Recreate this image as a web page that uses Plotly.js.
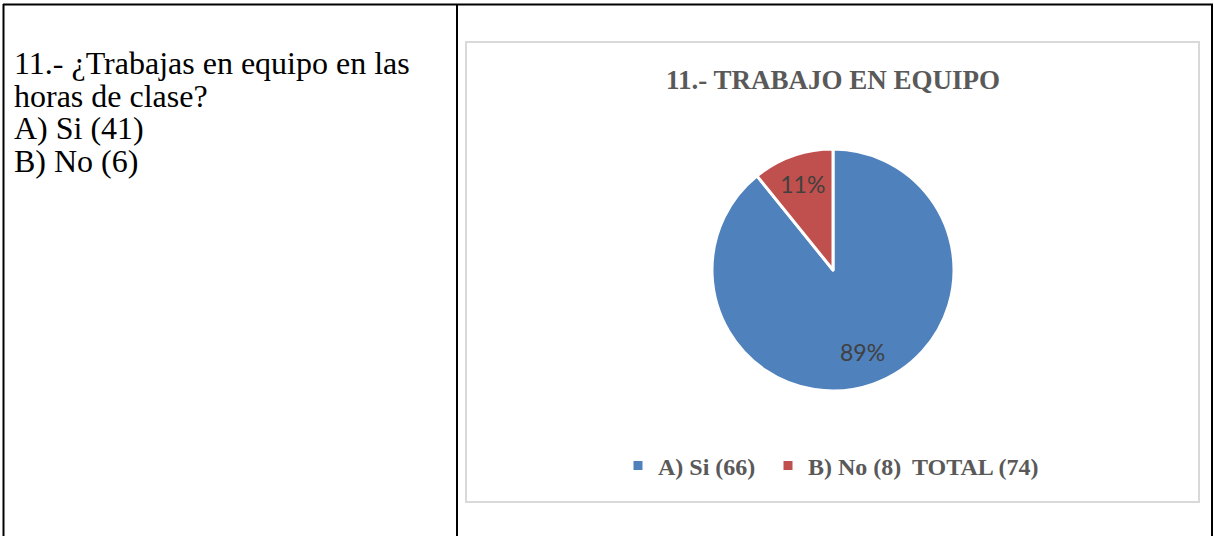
<!DOCTYPE html>
<html>
<head>
<meta charset="utf-8">
<script src="https://cdn.plot.ly/plotly-3.0.1.min.js"></script>
<style>
  html, body { margin: 0; padding: 0; background: #fff; }
  #wrap { position: relative; width: 1214px; height: 536px; }
  #chart { position: absolute; left: 0; top: 0; width: 1214px; height: 536px; }
  #question { position: absolute; left: 14px; top: 47px; width: 438px;
              font-family: "Liberation Serif", "Times New Roman", serif; font-size: 32px;
              line-height: 32.5px; color: #000; white-space: nowrap; }
</style>
</head>
<body>
<div id="wrap">
  <div id="chart"></div>
  <div id="question"></div>
</div>
<script>
// ---- data ----
const questionLines = ["11.- ¿Trabajas en equipo en las", "horas de clase?", "A) Si (41)", "B) No (6)"];
const chartTitle = "11.- TRABAJO EN EQUIPO";
const sliceLabels = ["A) Si (66)", "B) No (8)"];
const sliceValues = [66, 8];
const sliceColors = ["#4f81bd", "#c0504d"];
const totalLabel = "TOTAL (74)";

// left table cell text
const q = document.getElementById("question");
questionLines.forEach(t => { const d = document.createElement("div"); d.textContent = t; q.appendChild(d); });

// ---- layout helpers ----
const W = 1214, H = 536;
const px = x => x / W;
const py = y => 1 - y / H;
const SERIF = "Liberation Serif";

const shapes = [
  {type: "rect", xref: "paper", yref: "paper", x0: px(466), x1: px(1199), y0: py(42), y1: py(502),
   line: {color: "#d9d9d9", width: 2}, fillcolor: "rgba(0,0,0,0)", layer: "below"},
  {type: "line", xref: "paper", yref: "paper", x0: px(3), x1: px(1213), y0: py(4.5), y1: py(4.5), line: {color: "#000", width: 2}},
  {type: "line", xref: "paper", yref: "paper", x0: px(3.5), x1: px(3.5), y0: py(4), y1: py(536), line: {color: "#000", width: 2}},
  {type: "line", xref: "paper", yref: "paper", x0: px(457), x1: px(457), y0: py(4), y1: py(536), line: {color: "#000", width: 2}},
  {type: "line", xref: "paper", yref: "paper", x0: px(1212), x1: px(1212), y0: py(4), y1: py(536), line: {color: "#000", width: 2}}
];

const cx = 833, cy = 270, r = 121;

// label for the large slice, placed at its mid angle (derived from the values)
const total = sliceValues.reduce((a, b) => a + b, 0);
const midA = (sliceValues[0] / 2) / total * 2 * Math.PI;   // clockwise from 12 o'clock
const lr = 0.72 * r;
const annotations = [{
  text: Math.round(sliceValues[0] / total * 100) + "%",
  xref: "paper", yref: "paper",
  x: px(cx + lr * Math.sin(midA)), y: py(cy - lr * Math.cos(midA)),
  xanchor: "center", yanchor: "middle", showarrow: false,
  font: {family: "Lato, Carlito, sans-serif", size: 23, color: "#404040"}
}];

const pie = {
  type: "pie",
  labels: sliceLabels,
  values: sliceValues,
  sort: false,
  direction: "clockwise",
  rotation: 0,
  marker: {colors: sliceColors, line: {color: "#ffffff", width: 3}},
  texttemplate: [" ", "%{percent:.0%}"],
  textposition: "inside",
  insidetextorientation: "horizontal",
  textfont: {family: "Lato, Carlito, sans-serif", size: 23, color: "#404040"},
  domain: {x: [px(cx - 200), px(cx + 200)], y: [(H - cy - r) / H, (H - cy + r) / H]},
  legend: "legend"
};

const totalEntry = {
  type: "scatter", mode: "markers", x: [null], y: [null],
  name: totalLabel, marker: {color: "rgba(0,0,0,0)", size: 1},
  showlegend: true, legend: "legend2", hoverinfo: "skip"
};

const legendFont = {family: SERIF, size: 24, color: "#595959", weight: "bold"};

const layout = {
  width: W, height: H,
  margin: {l: 0, r: 0, t: 0, b: 0},
  paper_bgcolor: "rgba(0,0,0,0)",
  plot_bgcolor: "rgba(0,0,0,0)",
  xaxis: {visible: false}, yaxis: {visible: false},
  title: {text: chartTitle, x: px(833), y: py(80), xref: "paper", yref: "paper",
          xanchor: "center", yanchor: "middle",
          font: {family: SERIF, size: 27, color: "#595959", weight: "bold"}},
  showlegend: true,
  legend: {orientation: "h", x: px(618), y: py(466), xanchor: "left", yanchor: "middle",
           entrywidth: 105, entrywidthmode: "pixels",
           font: legendFont, bgcolor: "rgba(0,0,0,0)", traceorder: "normal"},
  legend2: {orientation: "h", x: px(872), y: py(466), xanchor: "left", yanchor: "middle",
           font: legendFont, bgcolor: "rgba(0,0,0,0)"},
  shapes: shapes,
  annotations: annotations
};

Plotly.newPlot("chart", [pie, totalEntry], layout, {displayModeBar: false, staticPlot: true});
</script>
</body>
</html>
